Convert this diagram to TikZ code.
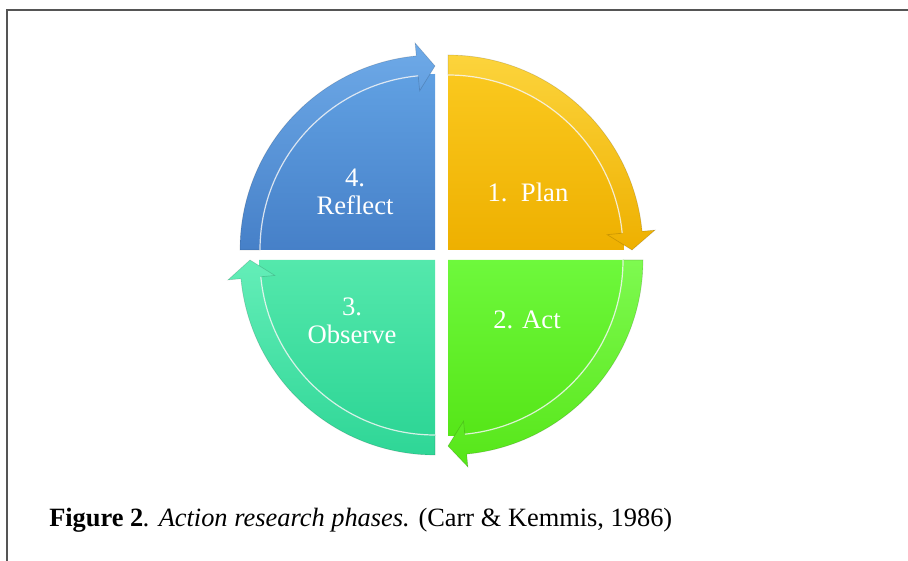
\documentclass[tikz,border=0pt]{standalone}
\usepackage{fontspec}
\setmainfont{Liberation Serif}
\usetikzlibrary{positioning}

\definecolor{reflecttop}{RGB}{96,160,226}
\definecolor{reflectbot}{RGB}{70,128,200}
\definecolor{reflectrim}{RGB}{110,170,232}
\definecolor{plantop}{RGB}{250,200,30}
\definecolor{planbot}{RGB}{238,176,0}
\definecolor{planrim}{RGB}{252,212,60}
\definecolor{acttop}{RGB}{110,248,60}
\definecolor{actbot}{RGB}{86,230,24}
\definecolor{actrim}{RGB}{126,250,80}
\definecolor{obstop}{RGB}{84,232,172}
\definecolor{obsbot}{RGB}{46,214,150}
\definecolor{obsrim}{RGB}{100,238,184}
\definecolor{framegray}{RGB}{85,85,85}

\begin{document}
\begin{tikzpicture}[
            x=0.75pt, y=0.75pt,
            phase/.style={text=white, align=center, font=\fontsize{20}{21}\selectfont},
            rim/.style={line width=0.9pt, draw=white, draw opacity=0.8},
            edge/.style={line width=0.5pt, draw=black, draw opacity=0.15}
        ]
            \useasboundingbox (0,0) rectangle (908,561);
            \draw[framegray, line width=1.6pt] (7,0) -- (7,551) -- (908,551);

            % 4. Reflect (top left)
            \begin{scope}[shift={(435,311)}]
                \shade[top color=reflecttop, bottom color=reflectbot] (0,0) -- (180:176) arc[start angle=180, end angle=90, radius=176] -- cycle;
                \shade[top color=reflectrim, bottom color=reflectbot, edge] (180:195) arc[start angle=180, end angle=95.5, radius=195] -- (95.5:208) -- (90:184) -- (95.5:160) -- (95.5:175) arc[start angle=95.5, end angle=180, radius=175] -- cycle;
                \draw[rim] (180:175) arc[start angle=180, end angle=95.5, radius=175];
            \end{scope}

            % 1. Plan (top right)
            \begin{scope}[shift={(448,311)}]
                \shade[top color=plantop, bottom color=planbot] (0,0) -- (90:176) arc[start angle=90, end angle=0, radius=176] -- cycle;
                \shade[top color=planrim, bottom color=planbot, edge] (90:195) arc[start angle=90, end angle=5.5, radius=195] -- (5.5:208) -- (0:184) -- (5.5:160) -- (5.5:175) arc[start angle=5.5, end angle=90, radius=175] -- cycle;
                \draw[rim] (90:175) arc[start angle=90, end angle=5.5, radius=175];
            \end{scope}

            % 2. Act (bottom right)
            \begin{scope}[shift={(448,301)}]
                \shade[top color=acttop, bottom color=actbot] (0,0) -- (0:176) arc[start angle=0, end angle=-90, radius=176] -- cycle;
                \shade[top color=actrim, bottom color=actbot, edge] (0:195) arc[start angle=0, end angle=-84.5, radius=195] -- (-84.5:208) -- (-90:186) -- (-84.5:162) -- (-84.5:175) arc[start angle=-84.5, end angle=0, radius=175] -- cycle;
                \draw[rim] (0:175) arc[start angle=0, end angle=-84.5, radius=175];
            \end{scope}

            % 3. Observe (bottom left)
            \begin{scope}[shift={(435,301)}]
                \shade[top color=obstop, bottom color=obsbot] (0,0) -- (-90:176) arc[start angle=-90, end angle=-180, radius=176] -- cycle;
                \shade[top color=obsrim, bottom color=obsbot, edge] (-90:195) arc[start angle=-90, end angle=-174.5, radius=195] -- (-174.5:208) -- (-180:185) -- (-174.5:161) -- (-174.5:175) arc[start angle=-174.5, end angle=-90, radius=175] -- cycle;
                \draw[rim] (-90:175) arc[start angle=-90, end angle=-174.5, radius=175];
            \end{scope}

            \node[phase] (reflect) at (355,369) {4.\\Reflect};
            \node[phase] (plan) at (528,369) {1.\ \ Plan};
            \node[phase] (act) at (527,241) {2. Act};
            \node[phase] (observe) at (352,240) {3.\\Observe};

            \node[anchor=base west, inner sep=0pt, font=\fontsize{19.8}{21}\selectfont] (caption) at (49,34)
                {\textbf{Figure 2}\textit{. Action research phases.} (Carr \& Kemmis, 1986)};
        \end{tikzpicture}
\end{document}
